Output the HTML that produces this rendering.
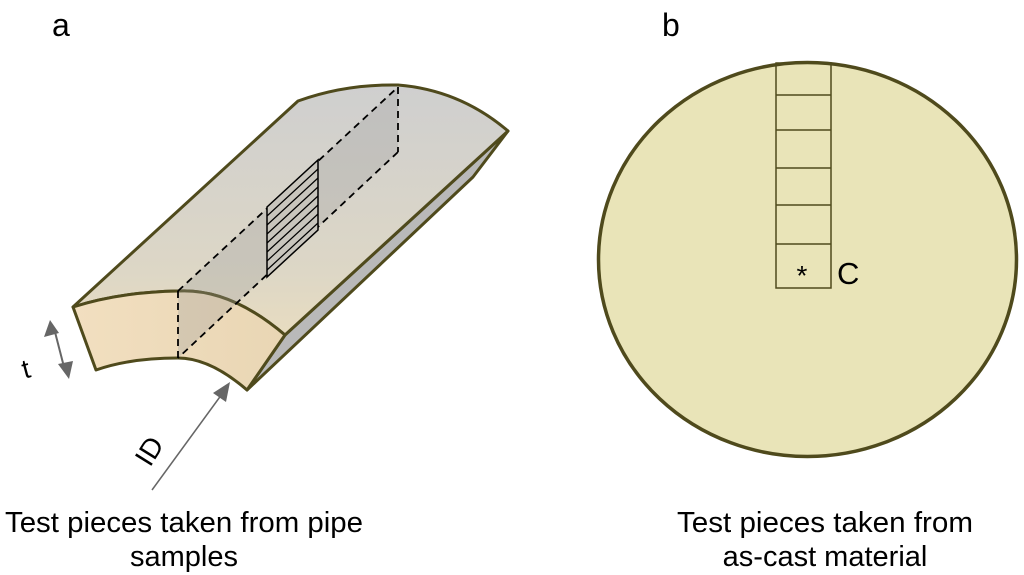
<!DOCTYPE html>
<html><head><meta charset="utf-8"><style>
html,body{margin:0;padding:0;background:#fff;width:1024px;height:575px;overflow:hidden}
</style></head><body>
<svg width="1024" height="575" viewBox="0 0 1024 575" xmlns="http://www.w3.org/2000/svg" font-family="Liberation Sans, sans-serif">
<defs>
<linearGradient id="top" x1="0" y1="1" x2="0" y2="0">
<stop offset="0" stop-color="#e8dcc0"/><stop offset="0.25" stop-color="#ddd7c6"/><stop offset="1" stop-color="#cfcfcf"/>
</linearGradient>
<linearGradient id="front" x1="0" y1="0" x2="1" y2="0">
<stop offset="0" stop-color="#f2dfc0"/><stop offset="1" stop-color="#e9d6b4"/>
</linearGradient>
</defs>
<text x="52" y="36" font-size="32">a</text>
<text x="662" y="36" font-size="32">b</text>
<polygon points="285,335 508,131 473,177 247,390" fill="#b9b9b9" stroke="#4f4a1c" stroke-width="3" stroke-linejoin="round"/>
<path d="M73,307 L298,101 Q345,84 398,85 Q460,90 508,131 L285,335 Q230,288 178,291 Q120,292 73,307 Z" fill="url(#top)" stroke="#4f4a1c" stroke-width="3" stroke-linejoin="round"/>
<path d="M73,307 Q120,292 178,291 Q230,288 285,335 L247,390 Q210,358 178,358 Q130,358 96,370 Z" fill="url(#front)" stroke="#4f4a1c" stroke-width="3" stroke-linejoin="round"/>
<polygon points="178,291 398,87 398,152 178,358" fill="#9a9a9a" fill-opacity="0.3"/>
<g stroke="#000" stroke-width="1.8" stroke-dasharray="7,5" fill="none">
<line x1="178" y1="291" x2="398" y2="87"/>
<line x1="398" y1="87" x2="398" y2="152"/>
<line x1="398" y1="152" x2="178" y2="358"/>
<line x1="178" y1="291" x2="178" y2="358"/>
</g>
<polygon points="267,207 318,160 318,230 267,277" fill="#c8c5bd" stroke="#000" stroke-width="1.5"/>
<g stroke="#000" stroke-width="1.2">
<line x1="267" y1="216" x2="318" y2="169"/><line x1="267" y1="225" x2="318" y2="178"/>
<line x1="267" y1="234" x2="318" y2="187"/><line x1="267" y1="243" x2="318" y2="196"/>
<line x1="267" y1="252" x2="318" y2="205"/><line x1="267" y1="261" x2="318" y2="214"/>
<line x1="267" y1="270" x2="318" y2="223"/>
</g>
<line x1="55" y1="332" x2="64" y2="367" stroke="#666" stroke-width="2"/>
<polygon points="50,320 44,337 59,333" fill="#666"/>
<polygon points="69,379 58,364 73,361" fill="#666"/>
<text x="22" y="377" font-size="27" transform="rotate(-15 30 368)">t</text>
<line x1="152" y1="490" x2="222" y2="394" stroke="#666" stroke-width="1.5"/>
<polygon points="230,382 213,393 226,402" fill="#666"/>
<text x="0" y="0" font-size="28" transform="translate(150,468) rotate(-58)">ID</text>
<text x="184" y="532" font-size="29" text-anchor="middle" textLength="358" lengthAdjust="spacingAndGlyphs">Test pieces taken from pipe</text>
<text x="184" y="566" font-size="29" text-anchor="middle">samples</text>
<ellipse cx="807.5" cy="259.5" rx="209" ry="197" fill="#e9e4b8" stroke="#4f4a1c" stroke-width="3.5"/>
<g stroke="#4f4a1c" stroke-width="1.5" fill="none">
<rect x="776" y="63" width="55" height="225"/>
<line x1="776" y1="95" x2="831" y2="95"/><line x1="776" y1="130" x2="831" y2="130"/>
<line x1="776" y1="168" x2="831" y2="168"/><line x1="776" y1="205" x2="831" y2="205"/>
<line x1="776" y1="244" x2="831" y2="244"/>
</g>
<text x="802" y="285" font-size="28" text-anchor="middle">*</text>
<text x="837" y="284" font-size="31">C</text>
<text x="825" y="532" font-size="29" text-anchor="middle" textLength="296" lengthAdjust="spacingAndGlyphs">Test pieces taken from</text>
<text x="825" y="566" font-size="29" text-anchor="middle">as-cast material</text>
</svg>
</body></html>
